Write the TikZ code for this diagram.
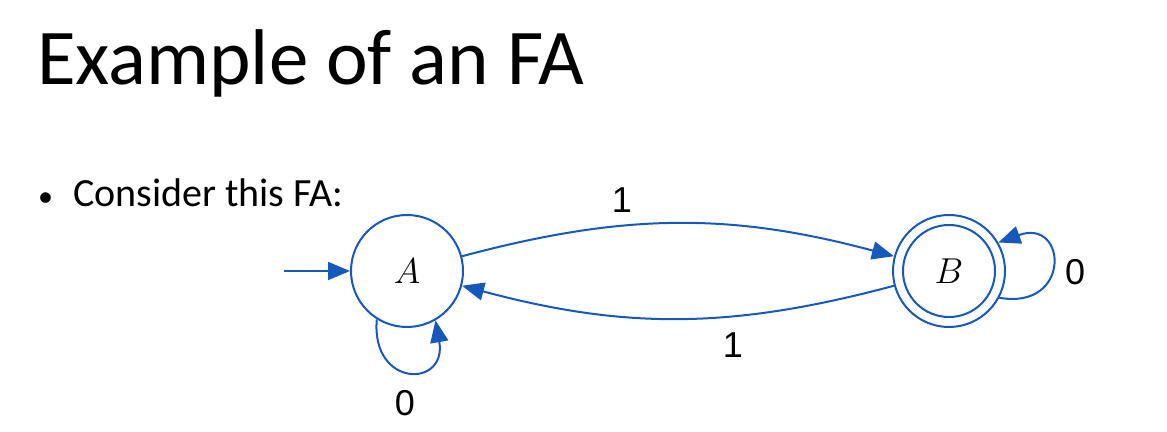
\documentclass[tikz,border=0pt]{standalone}
\usepackage{fix-cm}
\usepackage{fontspec}
\setmainfont{Carlito}
\newfontfamily\labfont{Liberation Sans}
\usetikzlibrary{arrows.meta,positioning}
\definecolor{fablue}{RGB}{22,88,188}

\begin{document}
\begin{tikzpicture}[x=1pt,y=1pt,
  state/.style={draw=fablue,circle,line width=2pt,minimum size=112pt,inner sep=0pt,font=\fontsize{36}{40}\selectfont},
  trans/.style={draw=fablue,line width=2pt,-{Triangle[length=22pt,width=18pt]},fablue},
  lab/.style={font=\labfont\fontsize{36}{40}\selectfont}]
  \useasboundingbox (0,0) rectangle (1167,431);
  % ---------- slide text
  \node[anchor=base west,inner sep=0pt,font=\fontsize{79}{84}\selectfont] (title) at (37,346) {Example of an FA};
  \node[anchor=base west,inner sep=0pt,font=\fontsize{40}{44}\selectfont] (item) at (38,224) {{\fontsize{30}{34}\selectfont\textbullet}\hspace{20pt}Consider this FA:};
  % ---------- states
  \node[state] (A) at (407,160) {$A$};
  \node[state] (B) at (949,160) {$B$};
  \draw[fablue,line width=2pt] (B.center) circle[radius=46pt];
  \coordinate (start) at (284,160);
  % ---------- transitions
  \draw[trans] (start) -- (A);
  \draw[trans] (A) to[bend left=15] (B);
  \draw[trans] (B) to[bend left=15] (A);
  \draw[trans] (A.-122) to[out=-95,in=-80,looseness=3] (A.-60);
  \draw[trans] (B.-28) to[out=-10,in=20,looseness=3.4] (B.30);
  % ---------- labels
  \node[lab] (l1) at (622,231) {1};
  \node[lab] (l2) at (733,86) {1};
  \node[lab] (l3) at (405,28) {0};
  \node[lab] (l4) at (1075,159) {0};
\end{tikzpicture}
\end{document}
